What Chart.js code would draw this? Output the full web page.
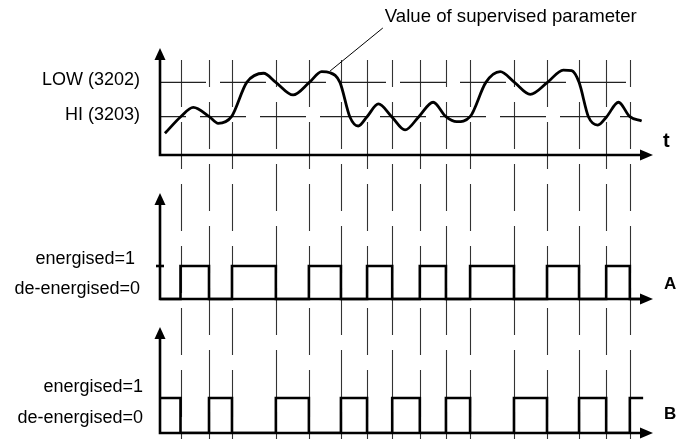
<!DOCTYPE html>
<html>
<head>
<meta charset="utf-8">
<title>Supervised parameter - relay outputs</title>
<script src="https://cdn.jsdelivr.net/npm/chart.js@4.4.1/dist/chart.umd.min.js"></script>
<style>
  html, body { margin: 0; padding: 0; background: #fff; }
  #container { position: relative; width: 677px; height: 439px; }
</style>
</head>
<body>
<div id="container"><canvas id="canvas"></canvas></div>
<script>

// time runs 0..100 along all three panels, parameter value 0..100 in the top panel
var curveT = [1.0, 4.2, 6.75, 10.0, 11.8, 14.5, 17.6, 21.0, 23.5, 27.0, 30.3, 32.8, 34.5, 36.5,
              38.5, 40.2, 42.0, 44.3, 47.0, 49.7, 52.5, 55.4, 58.0, 60.2, 62.9, 66.1, 69.0,
              71.9, 75.1, 78.6, 81.8, 83.5, 85.0, 86.9, 88.8, 90.6, 93.0, 95.3, 97.7];
var curveV = [20.3, 35.8, 44.6, 35.8, 29.6, 35.8, 67.9, 76.4, 67.9, 56.1, 67.9, 77.9, 76.9, 67.9,
              35.8, 27.1, 35.8, 47.7, 35.8, 23.4, 35.8, 49.3, 35.8, 31.1, 35.8, 67.9, 77.9,
              67.9, 56.7, 67.9, 79.4, 78.8, 67.9, 35.8, 28.0, 35.8, 49.3, 35.8, 31.8];

var lowLimit = 67.9;   // LOW (3202)
var hiLimit = 35.8;    // HI (3203)

// switching instants (first = start, last = end of trace)
var edgeTimes = [0, 4.16, 9.94, 14.6, 23.5, 30.2, 36.7, 42.0, 47.1, 52.7, 58.0,
                 62.9, 71.8, 78.5, 85.0, 90.5, 95.3, 98.0];
var relayA = [0, 1, 0, 1, 0, 1, 0, 1, 0, 1, 0, 1, 0, 1, 0, 1, 0, 0];
var relayB = [1, 0, 1, 0, 1, 0, 1, 0, 1, 0, 1, 0, 1, 0, 1, 0, 1, 1];

var limitLabels = ['LOW (3202)', 'HI (3203)'];
var levelLabels = ['energised=1', 'de-energised=0'];
var axisNames = ['t', 'A', 'B'];
var calloutText = 'Value of supervised parameter';
var calloutT = [34.5, 45.2];
var calloutV = [78.5, 118.7];

// ---- layout -------------------------------------------------------------
var areaTop = 48, areaBottom = 433;
var fontFamily = '"Liberation Sans", Arial, Helvetica, sans-serif';

// y range so that value 0 sits at zeroPx and one unit is unitPx high
function band(zeroPx, unitPx) {
  return { min: -(areaBottom - zeroPx) / unitPx, max: (zeroPx - areaTop) / unitPx };
}
var bandTop = band(155, 1.07);
var bandA = band(299, 33);
var bandB = band(433, 35);

function pts(xs, ys) {
  return xs.map(function (x, i) { return { x: x, y: ys[i] }; });
}

var panels = [
  { axis: 'yTop', tip: 100, name: axisNames[0], nameFont: 'bold 20px', nameDx: 10, nameDy: -8 },
  { axis: 'yA', tip: 3.21, name: axisNames[1], nameFont: 'bold 17px', nameDx: 11, nameDy: -10, tick: 1 },
  { axis: 'yB', tip: 3.03, name: axisNames[2], nameFont: 'bold 17px', nameDx: 11, nameDy: -14 }
];

var sideLabels = [
  { axis: 'yTop', value: lowLimit, text: limitLabels[0], dx: -20, dy: -2 },
  { axis: 'yTop', value: hiLimit, text: limitLabels[1], dx: -20, dy: -2 },
  { axis: 'yA', value: 1, text: levelLabels[0], dx: -25, dy: -7 },
  { axis: 'yA', value: 0, text: levelLabels[1], dx: -20, dy: -10 },
  { axis: 'yB', value: 1, text: levelLabels[0], dx: -17, dy: -11 },
  { axis: 'yB', value: 0, text: levelLabels[1], dx: -17, dy: -15 }
];

function arrowHead(ctx, x, y, dir) {
  ctx.beginPath();
  if (dir === 'up') {
    ctx.moveTo(x, y); ctx.lineTo(x - 5.5, y + 12); ctx.lineTo(x + 5.5, y + 12);
  } else {
    ctx.moveTo(x, y); ctx.lineTo(x - 13, y - 5.5); ctx.lineTo(x - 13, y + 5.5);
  }
  ctx.closePath();
  ctx.fill();
}

var diagramPlugin = {
  id: 'diagram',
  beforeDatasetsDraw: function (chart) {
    var ctx = chart.ctx, xs = chart.scales.x;
    ctx.save();
    ctx.strokeStyle = '#333';
    ctx.lineWidth = 1.1;
    for (var i = 1; i < edgeTimes.length - 1; i++) {
      var px = Math.round(xs.getPixelForValue(edgeTimes[i])) + 0.5;
      ctx.setLineDash([47, 15]);
      ctx.lineDashOffset = (i % 2) ? 0 : 20;
      ctx.beginPath();
      ctx.moveTo(px, chart.chartArea.top + 12);
      ctx.lineTo(px, chart.height);
      ctx.stroke();
    }
    ctx.restore();
  },
  afterDatasetsDraw: function (chart) {
    var ctx = chart.ctx, xs = chart.scales.x;
    var x0 = xs.getPixelForValue(0), xEnd = xs.getPixelForValue(100);
    ctx.save();
    ctx.strokeStyle = '#000';
    ctx.fillStyle = '#000';
    ctx.lineWidth = 2.6;
    ctx.lineCap = 'butt';

    panels.forEach(function (p) {
      var ys = chart.scales[p.axis];
      var y0 = ys.getPixelForValue(0), yTip = ys.getPixelForValue(p.tip);
      ctx.beginPath();
      ctx.moveTo(x0, y0 + 1.3);
      ctx.lineTo(x0, yTip + 10);
      ctx.moveTo(x0 - 1.3, y0);
      ctx.lineTo(xEnd - 10, y0);
      ctx.stroke();
      arrowHead(ctx, x0, yTip, 'up');
      arrowHead(ctx, xEnd, y0, 'right');
      if (p.tick !== undefined) {
        var yt = ys.getPixelForValue(p.tick);
        ctx.beginPath();
        ctx.moveTo(x0 - 4, yt);
        ctx.lineTo(x0 + 4, yt);
        ctx.stroke();
      }
      ctx.font = p.nameFont + ' ' + fontFamily;
      ctx.textAlign = 'left';
      ctx.textBaseline = 'alphabetic';
      ctx.fillText(p.name, xEnd + p.nameDx, y0 + p.nameDy);
    });

    ctx.font = '18px ' + fontFamily;
    ctx.textAlign = 'right';
    ctx.textBaseline = 'middle';
    sideLabels.forEach(function (l) {
      var ys = chart.scales[l.axis];
      ctx.fillText(l.text, x0 + l.dx, ys.getPixelForValue(l.value) + l.dy);
    });

    var yt = chart.scales.yTop;
    ctx.font = '18.6px ' + fontFamily;
    ctx.textAlign = 'left';
    ctx.fillText(calloutText, xs.getPixelForValue(calloutT[1]) + 2,
                 yt.getPixelForValue(calloutV[1]) - 11);
    ctx.restore();
  }
};

var limitDash = [46, 14];

var ctx = document.getElementById('canvas').getContext('2d');
window.diagram = new Chart(ctx, {
  type: 'line',
  data: {
    datasets: [
      {
        label: 'parameter',
        data: pts(curveT, curveV),
        yAxisID: 'yTop',
        borderColor: '#000',
        borderWidth: 2.8,
        pointRadius: 0,
        cubicInterpolationMode: 'monotone',
        fill: false
      },
      {
        label: 'relay A',
        data: pts(edgeTimes, relayA),
        yAxisID: 'yA',
        stepped: true,
        borderColor: '#000',
        borderWidth: 2.6,
        pointRadius: 0,
        fill: false
      },
      {
        label: 'relay B',
        data: pts(edgeTimes, relayB),
        yAxisID: 'yB',
        stepped: true,
        borderColor: '#000',
        borderWidth: 2.6,
        pointRadius: 0,
        fill: false
      },
      {
        label: 'callout',
        data: pts(calloutT, calloutV),
        yAxisID: 'yTop',
        borderColor: '#000',
        borderWidth: 1,
        pointRadius: 0,
        clip: false
      },
      {
        label: 'LOW',
        data: [{ x: 0, y: lowLimit }, { x: edgeTimes[16], y: lowLimit }],
        yAxisID: 'yTop',
        borderColor: '#222',
        borderWidth: 1.2,
        borderDash: limitDash,
        pointRadius: 0
      },
      {
        label: 'HI',
        data: [{ x: 0, y: hiLimit }, { x: edgeTimes[16], y: hiLimit }],
        yAxisID: 'yTop',
        borderColor: '#222',
        borderWidth: 1.2,
        borderDash: limitDash,
        borderDashOffset: 20,
        pointRadius: 0
      }
    ]
  },
  options: {
    responsive: true,
    maintainAspectRatio: false,
    animation: false,
    layout: { padding: { left: 160, right: 24, top: areaTop, bottom: 439 - areaBottom } },
    plugins: {
      legend: { display: false },
      tooltip: { enabled: false },
      title: { display: false }
    },
    scales: {
      x: { type: 'linear', min: 0, max: 100, display: false },
      yTop: { type: 'linear', min: bandTop.min, max: bandTop.max, display: false },
      yA: { type: 'linear', min: bandA.min, max: bandA.max, display: false },
      yB: { type: 'linear', min: bandB.min, max: bandB.max, display: false }
    }
  },
  plugins: [diagramPlugin]
});

</script>
</body>
</html>
